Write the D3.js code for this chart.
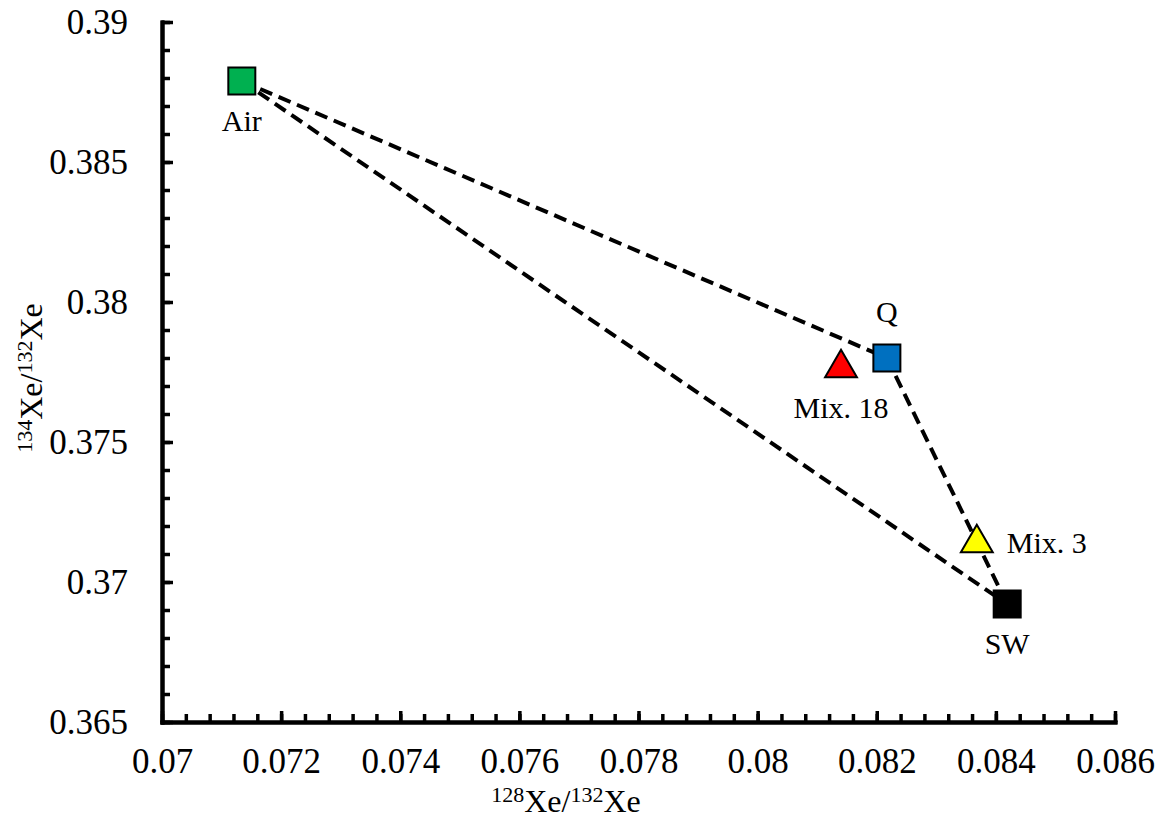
<!DOCTYPE html>
<html>
<head>
<meta charset="utf-8">
<style>
    body { margin: 0; background: #fff; }
    svg text { font-family: "Liberation Serif", serif; fill: #000; }
    .axis .domain { stroke: #000; stroke-width: 4px; }
    .axis .tick line { stroke: #000; stroke-width: 3.5px; }
    .axis .tick text { font-size: 35px; }
</style>
</head>
<body>
<svg width="1159" height="818"></svg>
<script src="https://d3js.org/d3.v7.min.js"></script>
<script>
    // end members and mixtures
    const names = ["Air", "Q", "Mix. 18", "Mix. 3", "SW"];
    const xe128 = [0.07134, 0.08217, 0.0814, 0.08368, 0.08419];
    const xe134 = [0.38789, 0.3780, 0.37764, 0.37139, 0.36921];
    const shapes = ["square", "square", "triangle", "triangle", "square"];
    const colors = ["#00b050", "#0070c0", "#ff0000", "#ffff00", "#000000"];
    const labelPos = ["below", "above", "below", "right", "below"];

    // mixing lines between end members (index pairs into the arrays above)
    const mixLines = [[0, 1], [1, 4], [0, 4]];

    const xTicks = [0.07, 0.072, 0.074, 0.076, 0.078, 0.08, 0.082, 0.084, 0.086];
    const xTickLabels = ["0.07", "0.072", "0.074", "0.076", "0.078", "0.08", "0.082", "0.084", "0.086"];
    const yTicks = [0.365, 0.37, 0.375, 0.38, 0.385, 0.39];
    const yTickLabels = ["0.365", "0.37", "0.375", "0.38", "0.385", "0.39"];

    const svg = d3.select("svg");
    const margin = { top: 22, right: 44, bottom: 96, left: 162 };
    const width = 1159, height = 818;

    const x = d3.scaleLinear().domain([0.07, 0.086]).range([margin.left, width - margin.right]);
    const y = d3.scaleLinear().domain([0.365, 0.39]).range([height - margin.bottom, margin.top]);

    // minor ticks
    const xMinor = d3.range(0, 41).map(i => 0.07 + i * 0.0004);
    const yMinor = d3.range(0, 26).map(i => 0.365 + i * 0.001);

    svg.append("g")
        .attr("class", "x axis")
        .attr("transform", `translate(0,${y(0.365)})`)
        .call(d3.axisBottom(x).tickValues(xMinor).tickSize(-8).tickSizeOuter(0).tickFormat(""));

    svg.append("g")
        .attr("class", "x axis")
        .attr("transform", `translate(0,${y(0.365)})`)
        .call(d3.axisBottom(x).tickValues(xTicks).tickSize(-11).tickSizeOuter(0).tickPadding(26)
            .tickFormat((d, i) => xTickLabels[i]));

    svg.append("g")
        .attr("class", "y axis")
        .attr("transform", `translate(${x(0.07)},0)`)
        .call(d3.axisLeft(y).tickValues(yMinor).tickSize(-8).tickSizeOuter(0).tickFormat(""));

    svg.append("g")
        .attr("class", "y axis")
        .attr("transform", `translate(${x(0.07)},0)`)
        .call(d3.axisLeft(y).tickValues(yTicks).tickSize(-11).tickSizeOuter(0).tickPadding(34)
            .tickFormat((d, i) => yTickLabels[i]));

    svg.selectAll(".axis").attr("font-family", null).attr("font-size", null);
    svg.selectAll(".domain").attr("stroke-linecap", "square");

    // dashed mixing lines
    svg.append("g")
        .selectAll("line")
        .data(mixLines)
        .join("line")
        .attr("x1", d => x(xe128[d[0]]))
        .attr("y1", d => y(xe134[d[0]]))
        .attr("x2", d => x(xe128[d[1]]))
        .attr("y2", d => y(xe134[d[1]]))
        .attr("stroke", "#000")
        .attr("stroke-width", 4)
        .attr("stroke-dasharray", "13,7");

    // markers
    const pts = names.map((n, i) => ({ name: n, x: xe128[i], y: xe134[i], shape: shapes[i], color: colors[i], pos: labelPos[i] }));

    const sq = d3.symbol().type(d3.symbolSquare).size(27 * 27);
    const tri = d3.symbol().type(d3.symbolTriangle).size(440);

    svg.append("g")
        .selectAll("path")
        .data(pts)
        .join("path")
        .attr("transform", d => `translate(${x(d.x)},${y(d.y)})`)
        .attr("d", d => d.shape === "square" ? sq() : tri())
        .attr("fill", d => d.color)
        .attr("stroke", "#000")
        .attr("stroke-width", 2);

    // point labels
    svg.append("g")
        .selectAll("text")
        .data(pts)
        .join("text")
        .attr("x", d => x(d.x) + (d.pos === "right" ? 30 : 0))
        .attr("y", d => y(d.y) + (d.pos === "below" ? 50 : d.pos === "above" ? -36 : 10))
        .attr("text-anchor", d => d.pos === "right" ? "start" : "middle")
        .style("font-size", "30px")
        .text(d => d.name);

    // axis titles
    const xt = svg.append("text")
        .attr("x", 566)
        .attr("y", 812)
        .attr("text-anchor", "middle")
        .style("font-size", "32px");
    xt.append("tspan").attr("dy", -10).style("font-size", "22px").text("128");
    xt.append("tspan").attr("dy", 10).text("Xe/");
    xt.append("tspan").attr("dy", -10).style("font-size", "22px").text("132");
    xt.append("tspan").attr("dy", 10).text("Xe");

    const yt = svg.append("text")
        .attr("transform", "translate(42,378) rotate(-90)")
        .attr("text-anchor", "middle")
        .style("font-size", "32px");
    yt.append("tspan").attr("dy", -10).style("font-size", "22px").text("134");
    yt.append("tspan").attr("dy", 10).text("Xe/");
    yt.append("tspan").attr("dy", -10).style("font-size", "22px").text("132");
    yt.append("tspan").attr("dy", 10).text("Xe");
</script>
</body>
</html>
